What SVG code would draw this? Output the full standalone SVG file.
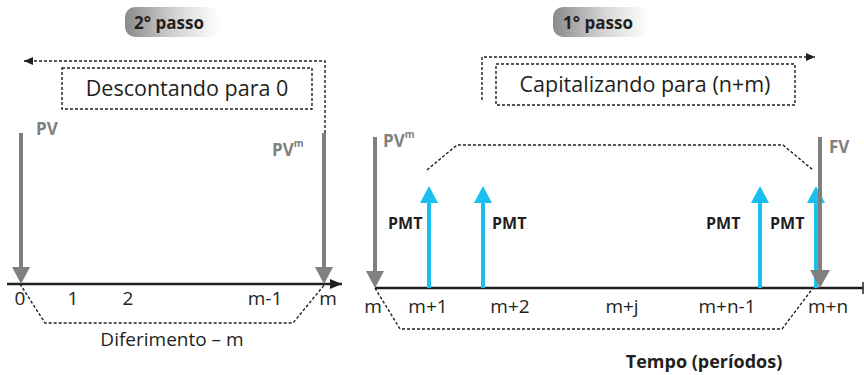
<svg xmlns="http://www.w3.org/2000/svg" width="864" height="375" viewBox="0 0 864 375">
<defs>
<linearGradient id="pill" x1="0" y1="0" x2="1" y2="0">
<stop offset="0" stop-color="#8a8a8a"/>
<stop offset="0.55" stop-color="#d6d6d6"/>
<stop offset="1" stop-color="#ffffff"/>
</linearGradient>
<marker id="blk" markerWidth="12" markerHeight="10" refX="12" refY="5" orient="auto" markerUnits="userSpaceOnUse"><path d="M0,0 L12,5 L0,10 Z" fill="#231f20"/></marker>
<marker id="dot" markerWidth="9" markerHeight="8" refX="9" refY="4" orient="auto" markerUnits="userSpaceOnUse"><path d="M0,0 L9,4 L0,8 Z" fill="#231f20"/></marker>
</defs>
<style>
text{font-family:"Open Sans","Liberation Sans",sans-serif;fill:#231f20}
.b{font-weight:bold}
.g{fill:#808080;font-weight:bold;font-size:17px}
.lab{font-size:19px}
.pmt{font-weight:bold;font-size:16px}
.dash{fill:none;stroke:#231f20;stroke-width:1.4;stroke-dasharray:3 2}
.gray{stroke:#808080;stroke-width:4}
.blue{stroke:#19c0f0;stroke-width:4}
.grayh{fill:#808080}
.blueh{fill:#19c0f0}
.axis{stroke:#231f20;stroke-width:2.5}
</style>
<g id="step2">
<rect x="125" y="7" width="95" height="30" rx="10" fill="url(#pill)"/>
<text x="169" y="29" text-anchor="middle" class="b" font-size="17">2° passo</text>
</g>
<g id="step1">
<rect x="553" y="7" width="95" height="30" rx="10" fill="url(#pill)"/>
<text x="598" y="29" text-anchor="middle" class="b" font-size="17">1° passo</text>
</g>
<g id="box-descontando">
<rect x="62" y="68" width="250" height="41" class="dash"/>
<text x="187" y="96" text-anchor="middle" font-size="21.5">Descontando para 0</text>
</g>
<g id="box-capitalizando">
<rect x="496" y="64" width="299" height="41" class="dash"/>
<text x="645" y="92" text-anchor="middle" font-size="21.5">Capitalizando para (n+m)</text>
</g>
<g id="connectors">
<path d="M325,133 L325,61 L24,61" class="dash" marker-end="url(#dot)"/>
<path d="M482,100 L482,57 L815,57" class="dash" marker-end="url(#dot)"/>
<line x1="7" y1="284" x2="342" y2="284" class="axis" marker-end="url(#blk)"/>
<line x1="375" y1="288" x2="863" y2="288" class="axis"/>
<line x1="863" y1="282" x2="863" y2="294" stroke="#231f20" stroke-width="1.5"/>
<path d="M20,284 L45,323 L293,323 L325,284" class="dash"/>
<path d="M375,288 L400,329 L782,329 L813,288" class="dash"/>
<path d="M427,170 L457,145 L783,145 L813,170" class="dash"/>
</g>
<g id="pv-left">
<line x1="21" y1="133" x2="21" y2="268" class="gray"/>
<path d="M12,267 L30,267 L21,284 Z" class="grayh"/>
<text x="36" y="135" class="g">PV</text>
</g>
<g id="pvm-left">
<line x1="324" y1="133" x2="324" y2="268" class="gray"/>
<path d="M315,267 L333,267 L324,284 Z" class="grayh"/>
<text x="272" y="156" class="g">PV<tspan font-size="10" dy="-9">m</tspan></text>
</g>
<g id="pvm-right">
<line x1="375" y1="137" x2="375" y2="272" class="gray"/>
<path d="M366,271 L384,271 L375,288 Z" class="grayh"/>
<text x="383" y="147" class="g">PV<tspan font-size="10" dy="-9">m</tspan></text>
</g>
<g id="pmt1">
<line x1="429" y1="288" x2="429" y2="200" class="blue"/>
<path d="M420,203 L438,203 L429,186 Z" class="blueh"/>
<text x="388" y="229" class="pmt">PMT</text>
</g>
<g id="pmt2">
<line x1="483" y1="288" x2="483" y2="200" class="blue"/>
<path d="M474,203 L492,203 L483,186 Z" class="blueh"/>
<text x="492" y="229" class="pmt">PMT</text>
</g>
<g id="pmt3">
<line x1="760" y1="288" x2="760" y2="200" class="blue"/>
<path d="M751,203 L769,203 L760,186 Z" class="blueh"/>
<text x="706" y="229" class="pmt">PMT</text>
</g>
<g id="pmt4">
<line x1="816" y1="288" x2="816" y2="200" class="blue"/>
<path d="M807,203 L825,203 L816,186 Z" class="blueh"/>
<text x="770" y="229" class="pmt">PMT</text>
</g>
<g id="fv">
<line x1="820" y1="137" x2="820" y2="272" class="gray"/>
<path d="M810,270 L830,270 L820,288 Z" class="grayh"/>
<text x="829" y="153" class="g">FV</text>
</g>
<g id="labels-left">
<text x="20" y="305" text-anchor="middle" class="lab">0</text>
<text x="73" y="305" text-anchor="middle" class="lab">1</text>
<text x="128" y="305" text-anchor="middle" class="lab">2</text>
<text x="265" y="305" text-anchor="middle" class="lab">m-1</text>
<text x="328" y="305" text-anchor="middle" class="lab">m</text>
<text x="172" y="346" text-anchor="middle" class="lab">Diferimento – m</text>
</g>
<g id="labels-right">
<text x="373" y="313" text-anchor="middle" class="lab">m</text>
<text x="428" y="313" text-anchor="middle" class="lab">m+1</text>
<text x="510" y="313" text-anchor="middle" class="lab">m+2</text>
<text x="622" y="313" text-anchor="middle" class="lab">m+j</text>
<text x="727" y="313" text-anchor="middle" class="lab">m+n-1</text>
<text x="828" y="313" text-anchor="middle" class="lab">m+n</text>
<text x="704" y="368" text-anchor="middle" class="b" font-size="18">Tempo (períodos)</text>
</g>
</svg>
